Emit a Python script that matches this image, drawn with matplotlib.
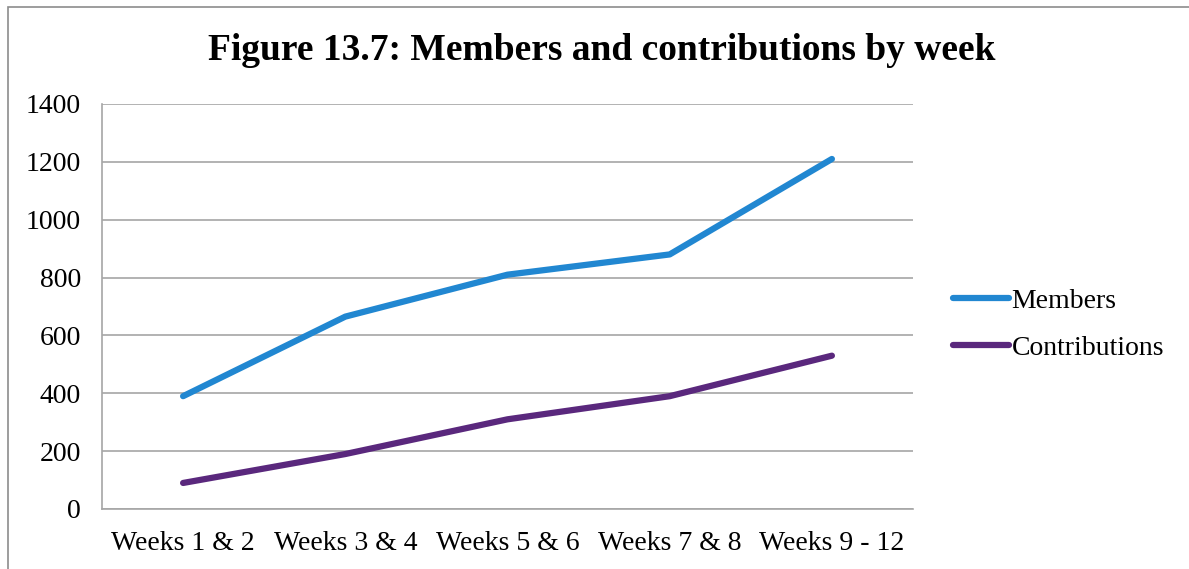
import matplotlib.pyplot as plt
from matplotlib.patches import Rectangle

weeks = ['Weeks 1 & 2', 'Weeks 3 & 4', 'Weeks 5 & 6', 'Weeks 7 & 8', 'Weeks 9 - 12']
members = [390, 665, 810, 880, 1210]
contributions = [90, 190, 310, 390, 530]

plt.rcParams['font.family'] = ['Liberation Serif', 'DejaVu Serif']

fig = plt.figure(figsize=(11.89, 5.69), dpi=100)
ax = fig.add_axes([102 / 1189, 60 / 569, 811 / 1189, 405 / 569])

x = range(len(weeks))
ax.plot(x, members, color='#2187D1', lw=4.5, solid_capstyle='round', solid_joinstyle='round', label='Members')
ax.plot(x, contributions, color='#5A287D', lw=4.5, solid_capstyle='round', solid_joinstyle='round', label='Contributions')

ax.set_xlim(-0.5, len(weeks) - 0.5)
ax.set_ylim(0, 1400)
ax.set_yticks(range(0, 1401, 200))
ax.set_xticks(list(x))
ax.set_xticklabels(weeks)
ax.tick_params(length=0, labelsize=20, colors='black')
ax.tick_params(axis='y', pad=15)
ax.tick_params(axis='x', pad=16)
ax.yaxis.grid(True, color='#A6A6A6', lw=1.2)
ax.set_axisbelow(True)
for s in ['top', 'right']:
    ax.spines[s].set_visible(False)
for s in ['left', 'bottom']:
    ax.spines[s].set_color('#A6A6A6')
    ax.spines[s].set_linewidth(1.2)

fig.text(0.506, 0.912, 'Figure 13.7: Members and contributions by week', ha='center', va='center',
         fontsize=27, fontweight='bold')

ax.legend(loc='center left', bbox_to_anchor=(1.036, 0.455), frameon=False, fontsize=20,
          handlelength=2.0, handletextpad=0.1, labelspacing=0.77, borderaxespad=0)

# outer chart border (cropped on right and bottom)
fig.patches.append(Rectangle((8 / 1189, -0.1), 1.2, 1.1 - 7 / 569, transform=fig.transFigure,
                             fill=False, edgecolor='#8C8C8C', lw=1.2))

fig.savefig('out.png', dpi=100)
